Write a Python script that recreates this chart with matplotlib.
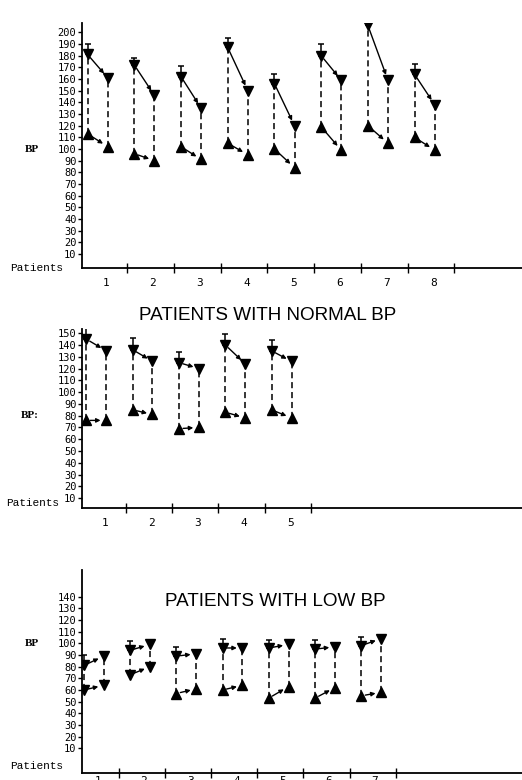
import matplotlib
matplotlib.use("Agg")
import matplotlib.pyplot as plt
from matplotlib.ticker import FixedLocator, NullFormatter

# ---------------- data ----------------
# Panel 1: patients with high BP
high_patients = [1, 2, 3, 4, 5, 6, 7, 8]
high_sys_before = [181, 172, 162, 187, 156, 180, 206, 164]
high_sys_after = [161, 146, 135, 150, 120, 159, 159, 138]
high_dia_before = [113, 96, 102, 105, 100, 119, 120, 110]
high_dia_after = [102, 90, 91, 95, 84, 99, 105, 99]
high_sd = [9, 6, 9, 8, 8, 10, 8, 9]

# Panel 2: patients with normal BP
norm_patients = [1, 2, 3, 4, 5]
norm_sys_before = [145, 136, 125, 140, 135]
norm_sys_after = [135, 126, 120, 124, 126]
norm_dia_before = [76, 85, 69, 83, 85]
norm_dia_after = [76, 81, 70, 78, 78]
norm_sd = [10, 10, 9, 9, 9]

# Panel 3: patients with low BP
low_patients = [1, 2, 3, 4, 5, 6, 7]
low_sys_before = [81, 94, 89, 96, 96, 95, 98]
low_sys_after = [89, 99, 91, 96, 99, 97, 104]
low_dia_before = [60, 73, 57, 60, 53, 53, 55]
low_dia_after = [64, 80, 61, 64, 63, 62, 58]
low_sd = [9, 8, 8, 8, 7, 8, 7]
low_dia_marker = ["v", "v", "^", "^", "^", "^", "^"]

high_yticks = list(range(10, 201, 10))
norm_yticks = list(range(10, 151, 10))
low_yticks = list(range(10, 141, 10))

W, H = 522, 780
fig = plt.figure(figsize=(W / 100, H / 100), dpi=100)


def make_ax(left, right, bottom, top):
    return fig.add_axes([left / W, 1 - bottom / H, (right - left) / W, (bottom - top) / H])


tick_font = dict(family="DejaVu Sans Mono", size=7.5)


def draw_panel(ax, patients, sb, sa, db, da, sd, yticks, xlim, ylim,
               dia_markers=None, offsets=(-0.4, 0.03), xpad=7):
    ax.set_xlim(*xlim)
    ax.set_ylim(*ylim)
    for s in ["top", "right"]:
        ax.spines[s].set_visible(False)
    ax.spines["left"].set_linewidth(1.3)
    ax.spines["bottom"].set_linewidth(1.3)
    ax.set_yticks(yticks)
    ax.set_yticklabels([str(t) for t in yticks], fontdict=tick_font)
    ax.tick_params(axis="y", direction="out", length=3, width=1, pad=1)
    # x: boundary ticks (major, unlabeled), patient labels (minor)
    ax.xaxis.set_major_locator(FixedLocator([p + 0.45 for p in patients]))
    ax.xaxis.set_major_formatter(NullFormatter())
    ax.tick_params(axis="x", which="major", direction="inout", length=7, width=1)
    ax.set_xticks(patients, minor=True)
    ax.set_xticklabels([str(p) for p in patients], minor=True,
                       fontdict=dict(family="DejaVu Sans Mono", size=8))
    ax.tick_params(axis="x", which="minor", length=0, pad=xpad)
    ax.patch.set_alpha(0)

    for i, p in enumerate(patients):
        x0 = p + offsets[0]
        x1 = p + offsets[1]
        dm = dia_markers[i] if dia_markers else "^"
        # dashed verticals
        ax.plot([x0, x0], [db[i], sb[i]], ls=(0, (4, 2.5)), color="black", lw=1.1)
        ax.plot([x1, x1], [da[i], sa[i]], ls=(0, (4, 2.5)), color="black", lw=1.1)
        # error cap above first systolic
        ax.errorbar([x0], [sb[i]], yerr=[[0], [sd[i]]], fmt="none", ecolor="black",
                    elinewidth=1.1, capsize=2.5, capthick=1.1)
        # markers
        ax.plot([x0, x1], [sb[i], sa[i]], ls="none", marker="v", ms=7, color="black")
        ax.plot([x0, x1], [db[i], da[i]], ls="none", marker=dm, ms=7, color="black")
        # arrows
        for ya, yb in [(sb[i], sa[i]), (db[i], da[i])]:
            ax.annotate("", xy=(x1, yb), xytext=(x0, ya),
                        arrowprops=dict(arrowstyle="-|>", color="black", lw=1.0,
                                        mutation_scale=6, shrinkA=3, shrinkB=4))


# Panel 1
ax1 = make_ax(82, 522, 268, 23)
draw_panel(ax1, high_patients, high_sys_before, high_sys_after, high_dia_before,
           high_dia_after, high_sd, high_yticks, (0.48, 9.90), (-2, 208))

# Panel 2
ax2 = make_ax(82, 522, 508, 329)
draw_panel(ax2, norm_patients, norm_sys_before, norm_sys_after, norm_dia_before,
           norm_dia_after, norm_sd, norm_yticks, (0.51, 10.0), (1.7, 153.5))

# Panel 3
ax3 = make_ax(82, 522, 773, 570)
draw_panel(ax3, low_patients, low_sys_before, low_sys_after, low_dia_before,
           low_dia_after, low_sd, low_yticks, (0.66, 10.18), (-11.1, 162.8),
           dia_markers=low_dia_marker, offsets=(-0.3, 0.13), xpad=2)

# Axis annotations
lab_font = dict(family="Liberation Serif", size=8, weight="bold")
pat_font = dict(family="Liberation Mono", size=8)
fig.text(32 / W, 1 - 149 / H, "BP", ha="center", va="center", **lab_font)
fig.text(30 / W, 1 - 415 / H, "BP:", ha="center", va="center", **lab_font)
fig.text(32 / W, 1 - 643 / H, "BP", ha="center", va="center", **lab_font)
fig.text(10 / W, 1 - 268 / H, "Patients", ha="left", va="center", **pat_font)
fig.text(6 / W, 1 - 503 / H, "Patients", ha="left", va="center", **pat_font)
fig.text(10 / W, 1 - 766 / H, "Patients", ha="left", va="center", **pat_font)

# Titles
title_font = dict(family="Liberation Sans", size=13.6)
fig.text(268 / W, 1 - 315 / H, "PATIENTS WITH NORMAL BP", ha="center", va="center", **title_font)
fig.text(275 / W, 1 - 601 / H, "PATIENTS WITH LOW BP", ha="center", va="center", **title_font)

fig.savefig("out.png", dpi=100)
